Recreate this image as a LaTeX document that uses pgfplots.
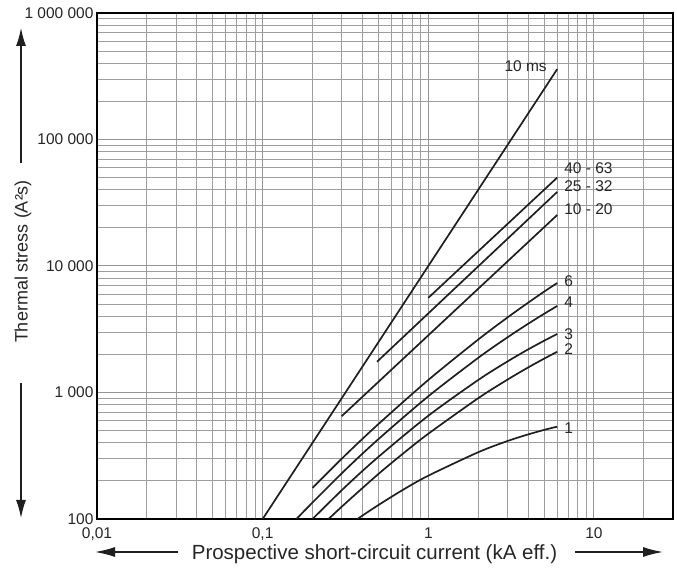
\documentclass[border=0pt]{standalone}
\usepackage{fontspec}
\setmainfont{Liberation Sans}
\usepackage{pgfplots}
\pgfplotsset{compat=1.18}
\usetikzlibrary{arrows.meta}
\begin{document}
\begin{tikzpicture}[curve/.style={line width=1.7pt, color=black!88, solid, mark=none}]
\useasboundingbox (-97pt,-50pt) rectangle (580pt,519pt);
\begin{axis}[
  at={(0pt,0pt)}, anchor=south west,
  scale only axis, width=576pt, height=506pt,
  xmode=log, ymode=log,
  xmin=0.01, xmax=30, ymin=100, ymax=1000000,
  xtick={0.01,0.1,1,10},
  xticklabels={{0,01},{0,1},{1},{10}},
  ytick={100,1000,10000,100000,1000000},
  yticklabels={{100},{1 000},{10 000},{100 000},{1 000 000}},
  minor xtick={0.02,0.03,0.04,0.05,0.06,0.07,0.08,0.09,0.2,0.3,0.4,0.5,0.6,0.7,0.8,0.9,2,3,4,5,6,7,8,9,20,30},
  minor ytick={200,300,400,500,600,700,800,900,2000,3000,4000,5000,6000,7000,8000,9000,20000,30000,40000,50000,60000,70000,80000,90000,200000,300000,400000,500000,600000,700000,800000,900000},
  grid=both,
  major grid style={black!42, line width=1pt},
  minor grid style={black!38, line width=1pt},
  major tick length=0pt, minor tick length=0pt,
  axis line style={black, line width=1.7pt},
  tick label style={font=\fontsize{15.5}{18}\selectfont, text=black!85},
  xticklabel style={yshift=-5pt},
  clip mode=individual,
]
\addplot[curve] coordinates {(0.1,100) (6,360000)};
\addplot[curve] coordinates {(1,5600) (6,50000)};
\addplot[curve] coordinates {(0.49,1750) (6,38500)};
\addplot[curve] coordinates {(0.3,650) (6,25300)};
\addplot[curve, smooth] coordinates {(0.2,176) (0.316,320) (0.5,563) (1,1256) (2,2620) (3,3910) (4,5120) (5,6270) (6,7340)};
\addplot[curve, smooth] coordinates {(0.16,100) (0.2,135) (0.316,245) (0.5,428) (1,933) (2,1878) (3,2724) (4,3489) (5,4188) (6,4830)};
\addplot[curve, smooth] coordinates {(0.2,100) (0.316,180) (0.5,310) (1,655) (2,1255) (3,1757) (4,2189) (5,2565) (6,2900)};
\addplot[curve, smooth] coordinates {(0.25,100) (0.316,133) (0.5,227) (0.708,331) (1,472) (2,901) (3,1262) (4,1576) (5,1852) (6,2100)};
\addplot[curve, smooth] coordinates {(0.373,100) (0.5,129) (0.708,171) (1,220) (2,337) (3,413) (4,466) (5,506) (6,537)};
\begin{scope}[every node/.style={font=\fontsize{15.5}{18}\selectfont, text=black!85, inner sep=0pt}]
\node[anchor=east] at (axis cs:5.2,380000) {10 ms};
\node[anchor=west] at (axis cs:6.6,59600) {40 - 63};
\node[anchor=west] at (axis cs:6.6,42800) {25 - 32};
\node[anchor=west] at (axis cs:6.6,28000) {10 - 20};
\node[anchor=west] at (axis cs:6.6,7530) {6};
\node[anchor=west] at (axis cs:6.6,5190) {4};
\node[anchor=west] at (axis cs:6.6,2910) {3};
\node[anchor=west] at (axis cs:6.6,2210) {2};
\node[anchor=west] at (axis cs:6.6,524) {1};
\end{scope}
\end{axis}
% axis title arrows
\draw[line width=1.4pt, black!88, -{Latex[length=18pt,width=10pt]}] (-76pt,356pt) -- (-76pt,491pt);
\draw[line width=1.4pt, black!88, -{Latex[length=18pt,width=10pt]}] (-76pt,136pt) -- (-76pt,1pt);
\node[rotate=90, font=\fontsize{18}{21}\selectfont, text=black!85] at (-74pt,257.5pt) {Thermal stress (A²s)};
\draw[line width=1.4pt, black!88, -{Latex[length=20pt,width=10pt]}] (81pt,-33pt) -- (-2pt,-33pt);
\draw[line width=1.4pt, black!88, -{Latex[length=20pt,width=10pt]}] (478pt,-33pt) -- (566pt,-33pt);
\node[anchor=base, font=\fontsize{20.5}{24}\selectfont, text=black!85] at (277.5pt,-41pt) {Prospective short-circuit current (kA eff.)};
\end{tikzpicture}
\end{document}
